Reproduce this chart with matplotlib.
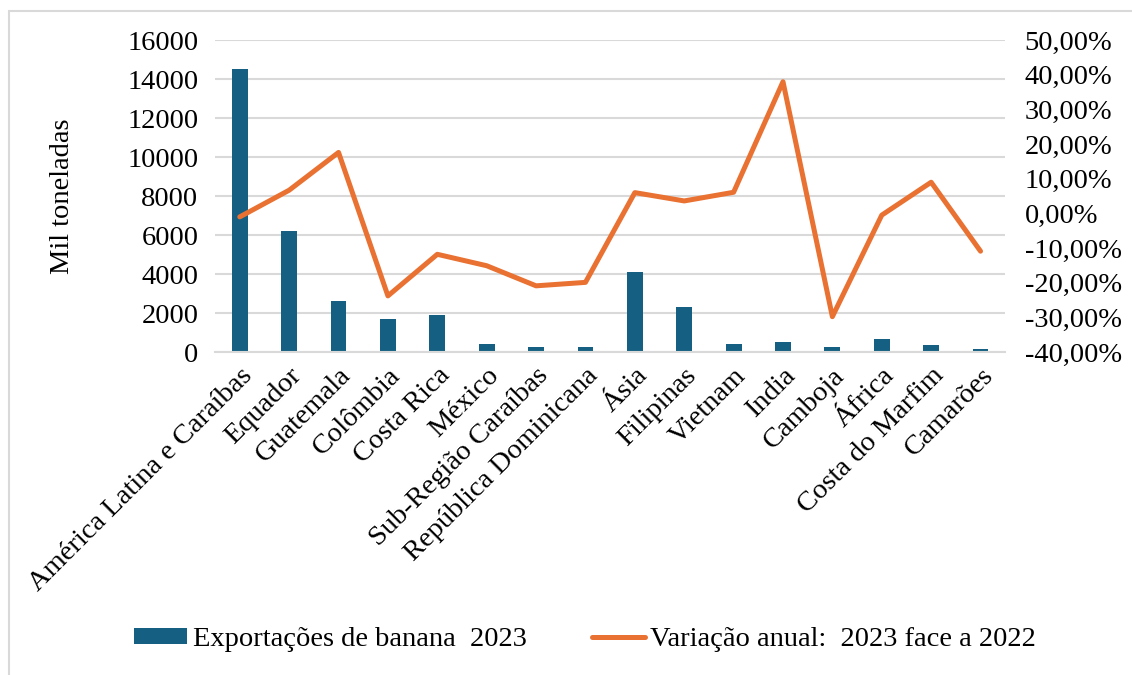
import matplotlib
matplotlib.use("Agg")
import matplotlib.pyplot as plt
from matplotlib.patches import Rectangle
from matplotlib.ticker import FuncFormatter

plt.rcParams['font.family'] = ['Liberation Serif', 'DejaVu Serif']

# Exportações de banana (mil toneladas) e variação anual
regioes = ["América Latina e Caraíbas", "Equador", "Guatemala", "Colômbia",
           "Costa Rica", "México", "Sub-Região Caraíbas", "República Dominicana",
           "Ásia", "Filipinas", "Vietnam", "India", "Camboja", "África",
           "Costa do Marfim", "Camarões"]
exportacoes_2023 = [14500, 6200, 2600, 1700, 1900, 430, 280, 260,
                    4100, 2300, 430, 500, 260, 650, 350, 180]
variacao_anual = [-1.0, 6.7, 17.6, -23.8, -11.8, -15.1, -20.9, -19.9,
                  6.0, 3.6, 6.1, 38.0, -29.8, -0.5, 9.0, -10.9]

azul = "#156082"
laranja = "#E97132"
fs = 20.5

fig = plt.figure(figsize=(11.32, 6.75), dpi=100)
ax = fig.add_axes([0.190, 0.4785, 0.698, 0.462])

x = range(len(regioes))
ax.bar(x, exportacoes_2023, width=0.32, color=azul, zorder=2,
       label="Exportações de banana  2023")
ax.set_ylim(0, 16000)
ax.set_yticks(range(0, 16001, 2000))
ax.set_xlim(-0.5, len(regioes) - 0.5)
ax.grid(axis='y', color="#D9D9D9", linewidth=1.5, zorder=0)
ax.set_axisbelow(True)
for s in ax.spines.values():
    s.set_visible(False)
ax.spines['bottom'].set_visible(True)
ax.spines['bottom'].set_color("#D9D9D9")
ax.spines['bottom'].set_linewidth(1.5)
ax.tick_params(length=0, labelsize=fs, pad=12)
ax.set_xticks(list(x))
ax.set_xticklabels(regioes, rotation=45, ha='right', rotation_mode='anchor')
ax.tick_params(axis='x', pad=8)
ax.set_ylabel("Mil toneladas", fontsize=fs, labelpad=38)

ax2 = ax.twinx()
ax2.plot(x, variacao_anual, color=laranja, linewidth=3.6, zorder=3,
         solid_capstyle='round', solid_joinstyle='round',
         label="Variação anual:  2023 face a 2022")
ax2.set_ylim(-40, 50)
ax2.set_yticks(range(-40, 51, 10))
ax2.yaxis.set_major_formatter(FuncFormatter(lambda v, p: f"{v:.2f}%".replace(".", ",")))
for s in ax2.spines.values():
    s.set_visible(False)
ax2.tick_params(length=0, labelsize=fs, pad=14)

h1, l1 = ax.get_legend_handles_labels()
h2, l2 = ax2.get_legend_handles_labels()
fig.legend(h1 + h2, l1 + l2, loc='center', bbox_to_anchor=(0.517, 0.052),
           ncol=2, frameon=False, fontsize=fs, handlelength=1.85,
           handleheight=0.5, handletextpad=0.2, columnspacing=2.3)

# moldura da área do gráfico
fig.patches.append(Rectangle((9 / 1132, -0.1), 1.2, 1 - 11 / 675 + 0.1,
                             transform=fig.transFigure, fill=False,
                             edgecolor="#D9D9D9", linewidth=1.5))

fig.savefig("out.png", dpi=100)
